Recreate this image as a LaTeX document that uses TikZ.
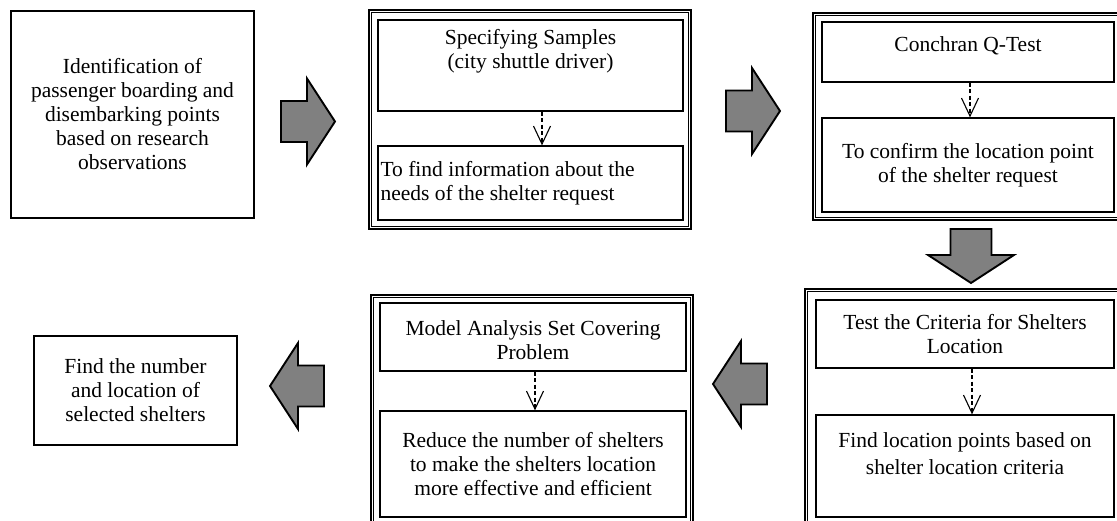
\documentclass[tikz,border=0pt]{standalone}
\usepackage{fontspec}
\setmainfont{Liberation Serif}
\usetikzlibrary{arrows.meta,calc}

\tikzset{
  bodyfont/.style={font=\fontsize{21.5}{24}\selectfont},
  plainbox/.style={draw, line width=1.5pt, inner sep=0pt, align=center, bodyfont},
  innerbox/.style={draw, line width=1.3pt, inner sep=0pt, align=center, bodyfont},
  txt/.style={inner sep=0pt, align=center, bodyfont},
  frameout/.style={draw, line width=2.5pt, inner sep=0pt},
  framein/.style={draw, line width=1pt},
  bigarrow/.style={draw, line width=1.9pt, fill={rgb,255:red,128;green,128;blue,128},
    line join=miter},
  dasharrow/.style={line width=1.1pt, dash pattern=on 4pt off 2.5pt,
    -{Straight Barb[length=18pt,width=17pt,line width=1.1pt]}},
  pics/blockarrow/.style={code={
    \draw[bigarrow] (0,0) -- (-28,-43) -- (-28,-20.5) -- (-54,-20.5)
      -- (-54,20.5) -- (-28,20.5) -- (-28,43) -- cycle;
  }}
}

\begin{document}
\begin{tikzpicture}[x=1pt,y=-1pt]
\useasboundingbox (0,0) rectangle (1117,521);
\clip (0,0) rectangle (1117,521);

% step 1
\node[plainbox, minimum width=243, minimum height=207] (s1) at (132.5,114.5)
  {Identification of\\passenger boarding and\\disembarking points\\based on research\\observations};

% step 2: sampling
\node[frameout, minimum width=322, minimum height=219] (f2) at (530,119.5) {};
\draw[framein] ($(f2.north west)+(4,4)$) rectangle ($(f2.south east)+(-4,-4)$);
\node[innerbox, minimum width=305, minimum height=91] (s2a) at (530.5,65.5) {};
\node[txt] at ($(s2a.center)+(0,-14)$) {Specifying Samples\\(city shuttle driver)};
\node[innerbox, minimum width=305, minimum height=74] (s2b) at (530.5,183) {};
\node[txt, align=left, anchor=west] at ($(s2b.west)+(3,0)$)
  {To find information about the\\needs of the shelter request};
\draw[dasharrow] (s2a.south -| 542,0) -- (s2b.north -| 542,0);

% step 3: Cochran test
\node[frameout, minimum width=312, minimum height=207] (f3) at (969,116.5) {};
\draw[framein] ($(f3.north west)+(4,4)$) rectangle ($(f3.south east)+(-4,-4)$);
\node[innerbox, minimum width=292, minimum height=60] (s3a) at (968,52) {};
\node[txt] at ($(s3a.center)+(0,-6)$) {Conchran Q-Test};
\node[innerbox, minimum width=292, minimum height=94] (s3b) at (968,165)
  {To confirm the location point\\of the shelter request};
\draw[dasharrow] (s3a.south -| 970,0) -- (s3b.north -| 970,0);

% step 4: location criteria
\node[frameout, minimum width=320, minimum height=248] (f4) at (965,413) {};
\draw[framein] ($(f4.north west)+(4,4)$) rectangle ($(f4.south east)+(-4,-4)$);
\node[innerbox, minimum width=298, minimum height=68] (s4a) at (965,334)
  {Test the Criteria for Shelters\\Location};
\node[innerbox, minimum width=298, minimum height=102] (s4b) at (965,466) {};
\node[txt, font=\fontsize{21.5}{27}\selectfont] at ($(s4b.center)+(0,-12.5)$)
  {Find location points based on\\shelter location criteria};
\draw[dasharrow] (s4a.south -| 972,0) -- (s4b.north -| 972,0);

% step 5: set covering
\node[frameout, minimum width=322, minimum height=242] (f5) at (532,416) {};
\draw[framein] ($(f5.north west)+(4,4)$) rectangle ($(f5.south east)+(-4,-4)$);
\node[innerbox, minimum width=306, minimum height=68] (s5a) at (533,337) {};
\node[txt] at ($(s5a.center)+(0,3)$) {Model Analysis Set Covering\\Problem};
\node[innerbox, minimum width=306, minimum height=106] (s5b) at (533,464)
  {Reduce the number of shelters\\to make the shelters location\\more effective and efficient};
\draw[dasharrow] (s5a.south -| 535,0) -- (s5b.north -| 535,0);

% step 6: result
\node[plainbox, minimum width=203, minimum height=109] (s6) at (135.5,390.5)
  {Find the number\\and location of\\selected shelters};

% block arrows between the steps
\pic at (335,121.5) {blockarrow};
\pic at (780,111) {blockarrow};
\pic[rotate=-90] at (971,283) {blockarrow};
\pic[rotate=180] at (713,384) {blockarrow};
\pic[rotate=180] at (270,386) {blockarrow};
\end{tikzpicture}
\end{document}
